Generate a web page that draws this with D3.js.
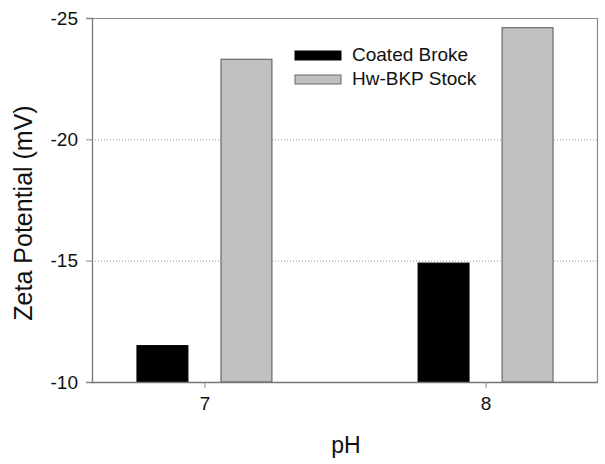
<!DOCTYPE html>
<html>
<head>
<meta charset="utf-8">
<script src="https://cdn.jsdelivr.net/npm/d3@7"></script>
<style>
  body { margin: 0; background: #fff; }
  text { font-family: Arial, "Liberation Sans", sans-serif; fill: #111; }
</style>
</head>
<body>
<svg id="chart" width="605" height="464"></svg>
<script>
// data
const phLevels = ["7", "8"];
const seriesNames = ["Coated Broke", "Hw-BKP Stock"];
const coatedBroke = [-11.5, -14.9];
const hwBkpStock = [-23.3, -24.6];
const yTicks = [-10, -15, -20, -25];

const colors = ["#000000", "#c0c0c0"];

const svg = d3.select("#chart");
const margin = { top: 18, right: 7, bottom: 82, left: 92 };
const width = 605, height = 464;

const x = d3.scalePoint()
  .domain(phLevels)
  .range([margin.left, width - margin.right])
  .padding(0.4);

const sub = d3.scaleBand()
  .domain(seriesNames)
  .range([-67.5, 67.5])
  .paddingInner(0.393)
  .paddingOuter(0);

const y = d3.scaleLinear()
  .domain([-10, -25])
  .range([height - margin.bottom, margin.top]);

// gridlines
svg.append("g")
  .selectAll("line")
  .data([-15, -20])
  .join("line")
  .attr("x1", margin.left)
  .attr("x2", width - margin.right)
  .attr("y1", d => y(d) + 0.5)
  .attr("y2", d => y(d) + 0.5)
  .attr("stroke", "#999")
  .attr("stroke-dasharray", "1,2");

// bars
const rows = phLevels.map((p, i) => ({ ph: p, values: [coatedBroke[i], hwBkpStock[i]] }));

svg.append("g")
  .selectAll("g")
  .data(rows)
  .join("g")
  .attr("transform", d => `translate(${x(d.ph)},0)`)
  .selectAll("rect")
  .data(d => d.values.map((v, j) => ({ name: seriesNames[j], value: v, j })))
  .join("rect")
  .attr("x", d => sub(d.name))
  .attr("y", d => y(d.value))
  .attr("width", sub.bandwidth())
  .attr("height", d => y(-10) - y(d.value))
  .attr("fill", d => colors[d.j])
  .attr("stroke", d => d.j === 0 ? "#000" : "#555")
  .attr("stroke-width", 1);

// frame
svg.append("path")
  .attr("d", `M${margin.left},${margin.top + 0.5}H${width - margin.right - 0.5}V${height - margin.bottom}`)
  .attr("fill", "none")
  .attr("stroke", "#888")
  .attr("stroke-width", 1.2);

// axes
const yAxis = svg.append("g")
  .attr("transform", `translate(${margin.left},0)`)
  .call(d3.axisLeft(y).tickValues(yTicks).tickSize(6).tickPadding(8).tickFormat(d3.format("d")));

const xAxis = svg.append("g")
  .attr("transform", `translate(0,${height - margin.bottom})`)
  .call(d3.axisBottom(x).tickSize(6).tickPadding(9).tickSizeOuter(0));

[yAxis, xAxis].forEach(g => {
  g.select(".domain").attr("stroke", "#777").attr("stroke-width", 1.3);
  g.selectAll(".tick line").attr("stroke", "#888");
  g.selectAll("text")
    .attr("fill", "#111")
    .style("font-family", "Arial, 'Liberation Sans', sans-serif")
    .style("font-size", "19px");
});
xAxis.select(".domain").attr("d", `M${margin.left},0.5H${width - margin.right}`);
yAxis.selectAll("text").text(d => d3.format("d")(d).replace("−", "-"));

// axis titles
svg.append("text")
  .attr("x", 346)
  .attr("y", 453)
  .attr("text-anchor", "middle")
  .style("font-size", "23px")
  .text("pH");

svg.append("text")
  .attr("transform", "translate(32,213) rotate(-90)")
  .attr("text-anchor", "middle")
  .style("font-size", "25px")
  .text("Zeta Potential (mV)");

// legend
const legend = svg.append("g").attr("transform", "translate(295,51)");
seriesNames.forEach((name, i) => {
  const row = legend.append("g").attr("transform", `translate(0,${i * 24})`);
  row.append("rect")
    .attr("width", 46)
    .attr("height", 9)
    .attr("fill", colors[i])
    .attr("stroke", i === 0 ? "#000" : "#666");
  row.append("text")
    .attr("x", 57)
    .attr("y", 10)
    .style("font-size", "19px")
    .text(name);
});
</script>
</body>
</html>
